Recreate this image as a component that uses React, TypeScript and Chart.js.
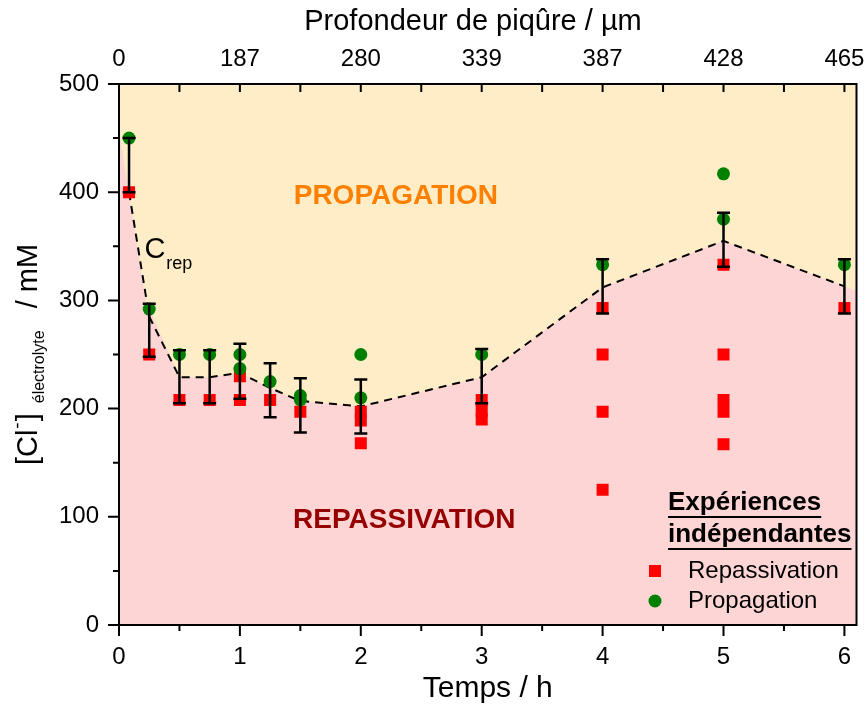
import React, { useEffect, useRef } from 'react';
import { Chart, registerables } from 'chart.js';

Chart.register(...registerables);

// ---- axis ticks ----
const HOUR_TICKS = [0, 1, 2, 3, 4, 5, 6];
const DEPTH_LABELS = ['0', '187', '280', '339', '387', '428', '465'];
const CONC_TICKS = [0, 100, 200, 300, 400, 500];

// ---- independent experiments: repassivation (red squares) ----
const REP_TIME = [0.083, 0.25, 0.5, 0.75, 1, 1, 1.25, 1.5, 2, 2, 2, 3, 3, 3, 4, 4, 4, 4, 5, 5, 5, 5, 5, 6];
const REP_CONC = [400, 250, 208, 208, 230, 208, 208, 197, 197, 189, 168, 208, 198, 190, 293, 250, 197, 125, 333, 250, 208, 197, 167, 293];

// ---- independent experiments: propagation (green circles) ----
const PROP_TIME = [0.083, 0.25, 0.5, 0.75, 1, 1, 1.25, 1.5, 1.5, 2, 2, 3, 4, 5, 5, 6];
const PROP_CONC = [450, 292, 250, 250, 250, 237, 225, 212, 208, 250, 210, 250, 333, 417, 375, 333];

// ---- error bars ----
const ERR_TIME = [0.083, 0.25, 0.5, 0.75, 1, 1.25, 1.5, 2, 3, 4, 5, 6];
const ERR_LOW = [400, 248, 205, 205, 209, 192, 178, 177, 205, 288, 331, 288];
const ERR_HIGH = [450, 297, 254, 254, 260, 242, 228, 227, 255, 338, 381, 338];

// ---- C_rep dashed curve ----
const CREP_TIME = [0.083, 0.25, 0.5, 0.75, 1, 1.25, 1.5, 2, 3, 4, 5, 6];
const CREP_CONC = [400, 285, 229, 229, 233, 219, 207, 202, 229, 312, 355, 313];

// ---- repassivation domain boundary (pink area) ----
const BOUND_TIME = [0, 0.22, 0.5, 0.75, 1, 1.25, 1.5, 2, 3, 4, 5, 6, 6.1];
const BOUND_CONC = [458, 300, 229, 229, 233, 219, 207, 202, 229, 312, 355, 313, 309];

const FONT = '"Liberation Sans", Arial, Helvetica, sans-serif';
const YELLOW = '#FEEDC6';
const PINK = '#FED5D5';
const RED = '#FF0000';
const GREEN = '#008000';

const pts = (xs: number[], ys: number[]) => xs.map((x, i) => ({ x, y: ys[i] }));

export default function App() {
  const ref = useRef<HTMLCanvasElement>(null);

  useEffect(() => {
    const canvas = ref.current;
    if (!canvas) return;

    const overlay = {
      id: 'overlay',
      beforeDatasetsDraw(chart: any) {
        const { ctx, chartArea: a } = chart;
        ctx.save();
        ctx.fillStyle = YELLOW;
        ctx.fillRect(a.left, a.top, a.right - a.left, a.bottom - a.top);
        ctx.restore();
      },
      afterDatasetsDraw(chart: any) {
        const ctx = chart.ctx;
        const xs = chart.scales.x;
        const ys = chart.scales.y;
        ctx.save();
        ctx.strokeStyle = '#000';
        ctx.lineWidth = 2.5;
        ERR_TIME.forEach((t, i) => {
          const x = xs.getPixelForValue(t);
          const y1 = ys.getPixelForValue(ERR_LOW[i]);
          const y2 = ys.getPixelForValue(ERR_HIGH[i]);
          ctx.beginPath();
          ctx.moveTo(x, y1);
          ctx.lineTo(x, y2);
          ctx.moveTo(x - 6.5, y1);
          ctx.lineTo(x + 6.5, y1);
          ctx.moveTo(x - 6.5, y2);
          ctx.lineTo(x + 6.5, y2);
          ctx.stroke();
        });
        ctx.restore();
      },
      afterDraw(chart: any) {
        const { ctx, chartArea: a } = chart;
        const xs = chart.scales.x;
        const ys = chart.scales.y;
        ctx.save();
        // frame
        ctx.strokeStyle = '#000';
        ctx.lineWidth = 2;
        ctx.strokeRect(a.left, a.top, a.right - a.left, a.bottom - a.top);
        // bottom ticks (outward) and top ticks (inward)
        ctx.beginPath();
        for (let k = 0; k <= 12; k++) {
          const v = k / 2;
          const x = xs.getPixelForValue(v);
          const len = k % 2 === 0 ? 11 : 6;
          ctx.moveTo(x, a.bottom);
          ctx.lineTo(x, a.bottom + len);
          if (k > 0) {
            ctx.moveTo(x, a.top);
            ctx.lineTo(x, a.top + 8);
          }
        }
        // left ticks (outward)
        for (let k = 0; k <= 10; k++) {
          const v = k * 50;
          const y = ys.getPixelForValue(v);
          const len = k % 2 === 0 ? 11 : 6;
          ctx.moveTo(a.left - len, y);
          ctx.lineTo(a.left, y);
        }
        ctx.stroke();

        // top axis title
        ctx.fillStyle = '#000';
        ctx.textAlign = 'center';
        ctx.textBaseline = 'middle';
        ctx.font = `29px ${FONT}`;
        ctx.fillText('Profondeur de piqûre / µm', 473, 22);

        // y axis title with super/subscript
        const cy = (a.top + a.bottom) / 2;
        const parts = [
          { t: '[Cl', s: 29, dy: 0, gap: 0 },
          { t: '-', s: 19, dy: -14, gap: 1 },
          { t: ']', s: 29, dy: 0, gap: 1 },
          { t: 'électrolyte', s: 16, dy: 7, gap: 10 },
          { t: '/ mM', s: 29, dy: 0, gap: 22 },
        ];
        let total = 0;
        const widths = parts.map((p) => {
          ctx.font = `${p.s}px ${FONT}`;
          const w = ctx.measureText(p.t).width;
          total += w + p.gap;
          return w;
        });
        ctx.save();
        ctx.translate(27, cy);
        ctx.rotate(-Math.PI / 2);
        ctx.textAlign = 'left';
        ctx.textBaseline = 'alphabetic';
        let px = -total / 2;
        parts.forEach((p, i) => {
          px += p.gap;
          ctx.font = `${p.s}px ${FONT}`;
          ctx.fillText(p.t, px, 10 + p.dy);
          px += widths[i];
        });
        ctx.restore();

        // C_rep label
        ctx.textAlign = 'left';
        ctx.textBaseline = 'alphabetic';
        const cx = xs.getPixelForValue(0.21);
        const cby = ys.getPixelForValue(339);
        ctx.font = `29px ${FONT}`;
        ctx.fillText('C', cx, cby);
        const cw = ctx.measureText('C').width;
        ctx.font = `18px ${FONT}`;
        ctx.fillText('rep', cx + cw + 1, cby + 11);

        // domain labels
        ctx.textAlign = 'center';
        ctx.textBaseline = 'middle';
        ctx.font = `bold 28px ${FONT}`;
        ctx.fillStyle = '#FF8000';
        ctx.fillText('PROPAGATION', xs.getPixelForValue(2.29), ys.getPixelForValue(396));
        ctx.fillStyle = '#960000';
        ctx.fillText('REPASSIVATION', xs.getPixelForValue(2.36), ys.getPixelForValue(97));

        // legend
        ctx.fillStyle = '#000';
        ctx.strokeStyle = '#000';
        ctx.textAlign = 'left';
        ctx.font = `bold 26px ${FONT}`;
        const titles = [
          { t: 'Expériences', y: 503 },
          { t: 'indépendantes', y: 535 },
        ];
        ctx.lineWidth = 2;
        titles.forEach((tl) => {
          ctx.fillText(tl.t, 668, tl.y);
          const w = ctx.measureText(tl.t).width;
          ctx.beginPath();
          ctx.moveTo(668, tl.y + 14);
          ctx.lineTo(668 + w, tl.y + 14);
          ctx.stroke();
        });
        ctx.fillStyle = RED;
        ctx.fillRect(649, 565, 12, 12);
        ctx.fillStyle = GREEN;
        ctx.beginPath();
        ctx.arc(655, 601, 6.5, 0, Math.PI * 2);
        ctx.fill();
        ctx.fillStyle = '#000';
        ctx.font = `24px ${FONT}`;
        ctx.fillText('Repassivation', 688, 571);
        ctx.fillText('Propagation', 688, 601);
        ctx.restore();
      },
    };

    const tickFont = { size: 24, family: FONT };

    const chart = new Chart(canvas, {
      type: 'scatter',
      data: {
        datasets: [
          {
            type: 'line',
            label: 'Domaine de repassivation',
            data: pts(BOUND_TIME, BOUND_CONC),
            fill: 'origin',
            backgroundColor: PINK,
            borderColor: 'rgba(0,0,0,0)',
            borderWidth: 0,
            pointRadius: 0,
            order: 5,
          },
          {
            type: 'line',
            label: 'Crep',
            data: pts(CREP_TIME, CREP_CONC),
            fill: false,
            borderColor: '#000',
            borderWidth: 2,
            borderDash: [8, 6],
            pointRadius: 0,
            order: 4,
          },
          {
            type: 'scatter',
            label: 'Repassivation',
            data: pts(REP_TIME, REP_CONC),
            pointStyle: 'rect',
            pointRadius: 8.5,
            backgroundColor: RED,
            borderWidth: 0,
            order: 3,
          },
          {
            type: 'scatter',
            label: 'Propagation',
            data: pts(PROP_TIME, PROP_CONC),
            pointStyle: 'circle',
            pointRadius: 6.5,
            backgroundColor: GREEN,
            borderWidth: 0,
            order: 2,
          },
        ] as any,
      },
      options: {
        responsive: false,
        animation: false,
        events: [],
        layout: { padding: { left: 0, right: 7, top: 0, bottom: 0 } },
        plugins: {
          legend: { display: false },
          tooltip: { enabled: false },
        },
        scales: {
          x: {
            type: 'linear',
            position: 'bottom',
            min: 0,
            max: 6.1,
            grid: { display: false, drawTicks: false },
            border: { display: false },
            afterBuildTicks: (s: any) => {
              s.ticks = HOUR_TICKS.map((v) => ({ value: v }));
            },
            ticks: {
              font: tickFont,
              color: '#000',
              padding: 18,
              maxRotation: 0,
              autoSkip: false,
              callback: (v: any) => String(v),
            },
            title: {
              display: true,
              text: 'Temps / h',
              color: '#000',
              font: { size: 30, family: FONT, lineHeight: 1 },
              padding: { top: 0, bottom: 0 },
            },
            afterFit: (s: any) => {
              s.height = 79;
              s.paddingLeft = 0;
              s.paddingRight = 0;
            },
          },
          x2: {
            type: 'linear',
            position: 'top',
            min: 0,
            max: 6.1,
            grid: { display: false, drawTicks: false },
            border: { display: false },
            afterBuildTicks: (s: any) => {
              s.ticks = HOUR_TICKS.map((v) => ({ value: v }));
            },
            ticks: {
              font: tickFont,
              color: '#000',
              padding: 10,
              maxRotation: 0,
              autoSkip: false,
              callback: (_v: any, i: number) => DEPTH_LABELS[i],
            },
            title: { display: false },
            afterFit: (s: any) => {
              s.height = 84;
              s.paddingLeft = 0;
              s.paddingRight = 0;
            },
          },
          y: {
            type: 'linear',
            position: 'left',
            min: 0,
            max: 500,
            grid: { display: false, drawTicks: false },
            border: { display: false },
            afterBuildTicks: (s: any) => {
              s.ticks = CONC_TICKS.map((v) => ({ value: v }));
            },
            ticks: {
              font: tickFont,
              color: '#000',
              padding: 20,
              callback: (v: any) => String(v),
            },
            title: { display: false },
            afterFit: (s: any) => {
              s.width = 119;
              s.paddingTop = 0;
              s.paddingBottom = 0;
            },
          },
        },
      } as any,
      plugins: [overlay],
    });

    return () => chart.destroy();
  }, []);

  return (
    <div style={{ position: 'absolute', left: 0, top: 0, width: 865, height: 704, background: '#fff' }}>
      <canvas ref={ref} width={865} height={704} style={{ display: 'block', width: 865, height: 704 }} />
    </div>
  );
}
